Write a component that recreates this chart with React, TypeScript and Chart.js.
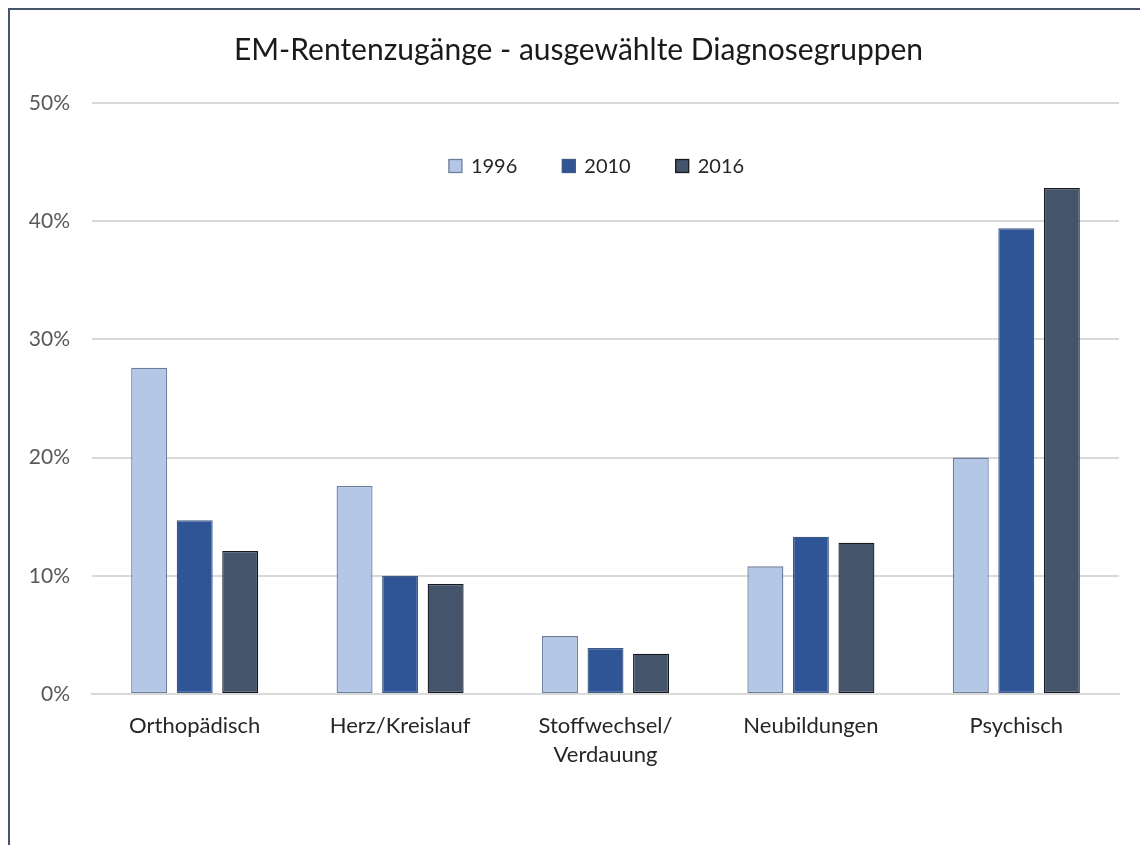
import React, { useEffect, useRef } from "react";
import { Chart, registerables } from "chart.js";

Chart.register(...registerables);

const titleText = "EM-Rentenzugänge - ausgewählte Diagnosegruppen";
const categories: (string | string[])[] = [
  "Orthopädisch",
  "Herz/Kreislauf",
  ["Stoffwechsel/", "Verdauung"],
  "Neubildungen",
  "Psychisch",
];
const seriesNames = ["1996", "2010", "2016"];
const values1996 = [27.6, 17.6, 4.9, 10.8, 20.0];
const values2010 = [14.7, 10.0, 3.9, 13.3, 39.4];
const values2016 = [12.1, 9.3, 3.4, 12.8, 42.8];
const yTicks = [0, 10, 20, 30, 40, 50];

const FONT = "Lato, 'Open Sans', sans-serif";

const titleShift = {
  id: "titleShift",
  afterLayout(chart: any) {
    if (chart.titleBlock) {
      chart.titleBlock.left = 38;
    }
  },
};

const insideLegend = {
  id: "insideLegend",
  afterDraw(chart: any) {
    const { ctx, chartArea } = chart;
    const box = 13;
    const textGap = 9;
    const itemGap = 45;
    ctx.save();
    ctx.font = `20px ${FONT}`;
    const items = chart.data.datasets.map((ds: any) => {
      const w = ctx.measureText(ds.label).width;
      return { ds, w, total: box + textGap + w };
    });
    const totalWidth =
      items.reduce((s: number, it: any) => s + it.total, 0) + itemGap * (items.length - 1);
    const cx = (chartArea.left + chartArea.right) / 2 - 9;
    let x = cx - totalWidth / 2;
    const y = chartArea.top + 63;
    items.forEach((it: any) => {
      ctx.fillStyle = it.ds.backgroundColor;
      ctx.fillRect(x, y - box / 2, box, box);
      ctx.strokeStyle = it.ds.borderColor;
      ctx.lineWidth = 1.3;
      ctx.strokeRect(x, y - box / 2, box, box);
      ctx.fillStyle = "#262626";
      ctx.textBaseline = "middle";
      ctx.textAlign = "left";
      ctx.fillText(it.ds.label, x + box + textGap, y + 1);
      x += it.total + itemGap;
    });
    ctx.restore();
  },
};

export default function App() {
  const ref = useRef<HTMLCanvasElement | null>(null);

  useEffect(() => {
    if (!ref.current) return;
    const chart = new Chart(ref.current, {
      type: "bar",
      data: {
        labels: categories,
        datasets: [
          {
            label: seriesNames[0],
            data: values1996,
            backgroundColor: "#b4c7e7",
            borderColor: "#6a7d99",
            borderWidth: 1.3,
            borderSkipped: false,
          },
          {
            label: seriesNames[1],
            data: values2010,
            backgroundColor: "#2f5597",
            borderColor: "#3d5a86",
            borderWidth: 1.3,
            borderSkipped: false,
          },
          {
            label: seriesNames[2],
            data: values2016,
            backgroundColor: "#44546a",
            borderColor: "#151a22",
            borderWidth: 1.3,
            borderSkipped: false,
          },
        ],
      },
      options: {
        animation: false,
        responsive: false,
        maintainAspectRatio: false,
        categoryPercentage: 0.665,
        barPercentage: 0.79,
        layout: { padding: { left: 10, right: 21, top: 0, bottom: 40 } },
        plugins: {
          tooltip: { enabled: false },
          legend: { display: false },
          title: {
            display: true,
            text: titleText,
            color: "#1a1a1a",
            font: { family: FONT, size: 30, weight: "normal" },
            padding: { top: 32, bottom: 35 },
          },
        },
        scales: {
          x: {
            afterFit: (scale: any) => {
              scale.height = 111;
            },
            grid: { display: false, drawTicks: false },
            border: { display: true, color: "#d9d9d9", width: 2 },
            ticks: {
              color: "#262626",
              font: { family: FONT, size: 22, lineHeight: 1.32 },
              padding: 17,
              maxRotation: 0,
              autoSkip: false,
            },
          },
          y: {
            min: 0,
            max: 50,
            afterBuildTicks: (scale: any) => {
              scale.ticks = yTicks.map((v) => ({ value: v }));
            },
            afterFit: (scale: any) => {
              scale.width = 82;
            },
            grid: { color: "#d9d9d9", lineWidth: 2, drawTicks: false },
            border: { display: false },
            ticks: {
              color: "#595959",
              font: { family: FONT, size: 21 },
              padding: 22,
              callback: (v: any) => `${v}%`,
            },
          },
        },
      },
      plugins: [titleShift, insideLegend],
    });
    return () => chart.destroy();
  }, []);

  return (
    <div
      style={{
        position: "fixed",
        left: 0,
        top: 0,
        width: 1140,
        height: 845,
        overflow: "hidden",
        background: "#fff",
      }}
    >
      <div
        style={{
          position: "absolute",
          left: 8,
          top: 8,
          width: 1200,
          height: 900,
          borderLeft: "2px solid #44546a",
          borderTop: "2px solid #44546a",
        }}
      />
      <canvas
        ref={ref}
        width={1140}
        height={845}
        style={{ position: "absolute", left: 0, top: 0, width: 1140, height: 845 }}
      />
    </div>
  );
}
